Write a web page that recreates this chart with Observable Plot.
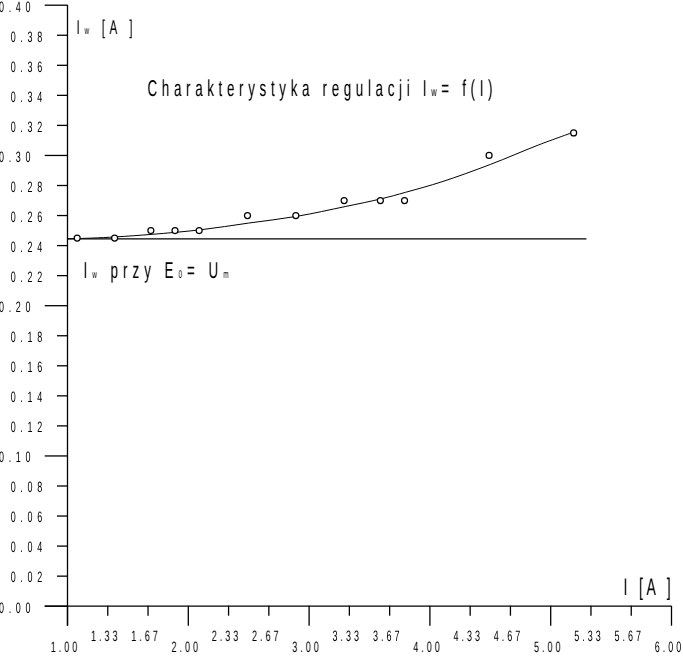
<!DOCTYPE html>
<html><head><meta charset="utf-8">
<script src="https://cdn.jsdelivr.net/npm/d3@7"></script>
<script src="https://cdn.jsdelivr.net/npm/@observablehq/plot@0.6"></script>
<style>html,body{margin:0;padding:0;background:#fff} svg{filter:grayscale(1)} svg text{text-rendering:geometricPrecision}</style>
</head><body><div id="chart"></div>
<script>
// ---- data ----
const pointI  = [1.08, 1.39, 1.69, 1.89, 2.09, 2.49, 2.89, 3.29, 3.59, 3.79, 4.49, 5.19];
const pointIw = [0.245, 0.245, 0.25, 0.25, 0.25, 0.26, 0.26, 0.27, 0.27, 0.27, 0.30, 0.315];
const fitI  = [1.0, 1.2, 1.4, 1.7, 2.1, 2.5, 2.9, 3.3, 3.6, 3.8, 4.1, 4.5, 4.9, 5.2];
const fitIw = [0.2445, 0.2450, 0.2458, 0.2475, 0.2505, 0.2550, 0.2595, 0.2660, 0.2712, 0.2755, 0.2825, 0.2940, 0.3070, 0.3158];
const refI  = [1.0, 5.3];
const refIw = 0.2445;
const xDomain = [1, 6];
const yDomain = [0, 0.4];
const xMajor = [1, 2, 3, 4, 5, 6];
const xMajorLabels = ["1.00", "2.00", "3.00", "4.00", "5.00", "6.00"];
const xMinor = [1.3333, 1.6667, 2.3333, 2.6667, 3.3333, 3.6667, 4.3333, 4.6667, 5.3333, 5.6667];
const xMinorLabels = ["1.33", "1.67", "2.33", "2.67", "3.33", "3.67", "4.33", "4.67", "5.33", "5.67"];
const yMajor = [0, 0.1, 0.2, 0.3, 0.4];
const yMajorLabels = ["0.00", "0.10", "0.20", "0.30", "0.40"];
const yMinor = [0.02, 0.04, 0.06, 0.08, 0.12, 0.14, 0.16, 0.18, 0.22, 0.24, 0.26, 0.28, 0.32, 0.34, 0.36, 0.38];
const yMinorLabels = ["0.02", "0.04", "0.06", "0.08", "0.12", "0.14", "0.16", "0.18", "0.22", "0.24", "0.26", "0.28", "0.32", "0.34", "0.36", "0.38"];
const titleText = "Charakterystyka regulacji I_w= f(I)";
const yLabelText = "I_w [A ]";
const xLabelText = "I [A ]";
const refLabelText = "I_w przy E_0= U_m";

// ---- layout ----
const M = {left: 67, right: 12, top: 4.7, bottom: 55.3};
const SX = 0.58;
const TSX = 0.6;
const annotations = [
  {text: titleText,    left: 147, right: 492, baseline: 95,  size: 23, sub: 13},
  {text: yLabelText,   left: 76,  right: 132, baseline: 33,  size: 20, sub: 11},
  {text: refLabelText, left: 83,  right: 228, baseline: 277, size: 23, sub: 11},
  {text: xLabelText,   left: 623, right: 670, baseline: 594, size: 24, sub: 11}
];
const axisW = 1.3;
const tickFont = 15;

const marks = [
  // axes
  Plot.ruleY([0], {x1: xDomain[0], x2: xDomain[1], insetLeft: -22.3, stroke: "black", strokeWidth: axisW}),
  Plot.ruleX([xDomain[0]], {y1: yDomain[1], y2: yDomain[0], insetBottom: -20, stroke: "black", strokeWidth: axisW}),
  Plot.ruleX(xMajor, {x: d => d, y1: () => 0, y2: () => 0, insetBottom: -20, stroke: "black", strokeWidth: axisW}),
  Plot.ruleX(xMinor, {x: d => d, y1: () => 0, y2: () => 0, insetBottom: -10, stroke: "black", strokeWidth: axisW}),
  Plot.ruleY(yMajor, {y: d => d, x1: () => 1, x2: () => 1, insetLeft: -22.3, stroke: "black", strokeWidth: axisW}),
  Plot.ruleY(yMinor, {y: d => d, x1: () => 1, x2: () => 1, insetLeft: -10, stroke: "black", strokeWidth: axisW}),
  // tick labels
  Plot.text(xMajor, {x: d => d, y: () => 0, text: (d, i) => xMajorLabels[i], dy: 45.3, dx: -2, lineAnchor: "bottom", fontSize: tickFont, fill: "black"}),
  Plot.text(xMinor, {x: d => d, y: () => 0, text: (d, i) => xMinorLabels[i], dy: 34.8, dx: -2, lineAnchor: "bottom", fontSize: tickFont, fill: "black"}),
  Plot.text(yMajor, {x: () => 1, y: d => d, text: (d, i) => yMajorLabels[i], textAnchor: "end", dx: -32.3, dy: 1.5, lineAnchor: "middle", fontSize: tickFont, fill: "black"}),
  Plot.text(yMinor, {x: () => 1, y: d => d, text: (d, i) => yMinorLabels[i], textAnchor: "end", dx: -20.6, dy: 1.5, lineAnchor: "middle", fontSize: tickFont, fill: "black"}),
  // reference line
  Plot.ruleY([refIw], {x1: refI[0], x2: refI[1], stroke: "black", strokeWidth: 1.2}),
  // fitted curve
  Plot.line(fitI, {x: d => d, y: (d, i) => fitIw[i], curve: "catmull-rom", stroke: "black", strokeWidth: 1}),
  // measured points
  Plot.dot(pointI, {x: d => d, y: (d, i) => pointIw[i], r: 3, stroke: "black", fill: "white", strokeWidth: 1.2}),
  // annotations
  ...annotations.map(a => Plot.text([a.text], {text: d => d, frameAnchor: "top-left", dx: a.left - M.left, dy: a.baseline - M.top,
    textAnchor: "start", lineAnchor: "bottom", fontSize: a.size, fill: "black"}))
];

const svg = Plot.plot({
  width: 683, height: 661,
  marginLeft: M.left, marginRight: M.right, marginTop: M.top, marginBottom: M.bottom,
  x: {domain: xDomain, axis: null},
  y: {domain: yDomain, axis: null},
  style: {fontFamily: "'Liberation Sans', Arial, sans-serif", background: "white", color: "black", overflow: "visible"},
  marks
});

const NS = "http://www.w3.org/2000/svg";
function subscriptify(t, subSize) {
  const s = t.textContent;
  if (!s.includes("_")) return;
  t.textContent = "";
  let buf = "";
  for (let i = 0; i < s.length; i++) {
    if (s[i] === "_" && i + 1 < s.length) {
      if (buf) { t.appendChild(document.createTextNode(buf)); buf = ""; }
      const ts = document.createElementNS(NS, "tspan");
      ts.setAttribute("font-size", subSize);
      ts.textContent = s[i + 1];
      t.appendChild(ts);
      i++;
    } else buf += s[i];
  }
  if (buf) t.appendChild(document.createTextNode(buf));
}
const yLabelSet = new Set([...yMajorLabels, ...yMinorLabels]);
svg.querySelectorAll("text").forEach(t => {
  const s = t.textContent;
  const a = annotations.find(a => a.text === s);
  const tr = t.getAttribute("transform") || "";
  if (a) {
    t.setAttribute("transform", tr + ` scale(${SX},1)`);
    subscriptify(t, a.sub);
    t.setAttribute("textLength", (a.right - a.left) / SX);
    t.setAttribute("lengthAdjust", "spacing");
  } else {
    t.setAttribute("transform", tr + ` scale(${TSX},1)`);
    t.style.letterSpacing = yLabelSet.has(s) ? "7.8px" : "5px";
  }
});
document.getElementById("chart").appendChild(svg);
</script>
</body></html>
